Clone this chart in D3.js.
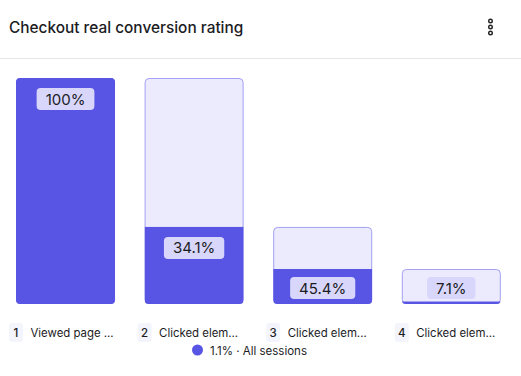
<!DOCTYPE html>
<html>
<head>
<meta charset="utf-8">
<script src="https://cdn.jsdelivr.net/npm/d3@7"></script>
<style>
  body { margin: 0; background: #fff; font-family: Inter, 'Noto Sans', sans-serif; }
</style>
</head>
<body>
<div id="chart"></div>
<script>
const width = 521;
const height = 376;

const title = 'Checkout real conversion rating';
const stepNumbers = ['1', '2', '3', '4'];
const stepLabels = ['Viewed page ...', 'Clicked elem...', 'Clicked elem...', 'Clicked elem...'];
// conversion from previous step, in %
const stepRates = [100, 34.1, 45.4, 7.1];
const legendLabel = '1.1% · All sessions';

const DARK = '#5955e4';
const LIGHT = '#ecebfd';
const BORDER = '#a3a0f3';
const LABEL_BG = '#d8d7fb';

// outer bar = share reaching previous step, fill = share reaching this step
const steps = [];
let prev = 100;
stepRates.forEach((r, i) => {
  const cur = i === 0 ? r : (prev * r) / 100;
  steps.push({ num: stepNumbers[i], label: stepLabels[i], rate: r, outer: i === 0 ? 100 : prev, value: cur });
  prev = cur;
});

const svg = d3.select('#chart').append('svg').attr('width', width).attr('height', height);

// header
svg.append('text')
  .attr('x', 9)
  .attr('y', 33)
  .style('font-size', '15.4px')
  .style('font-weight', '500')
  .attr('fill', '#1c1c1f')
  .text(title);

[21, 27, 33].forEach((cy) => {
  svg.append('circle')
    .attr('cx', 490.5)
    .attr('cy', cy)
    .attr('r', 1.8)
    .attr('fill', 'none')
    .attr('stroke', '#222')
    .attr('stroke-width', 1.4);
});

svg.append('line')
  .attr('x1', 0).attr('x2', width)
  .attr('y1', 58.5).attr('y2', 58.5)
  .attr('stroke', '#e6e6e9');

const x = d3.scaleBand()
  .domain(steps.map((d) => d.num))
  .range([16, 500.8])
  .paddingInner(0.23)
  .paddingOuter(0);

const y = d3.scaleLinear().domain([0, 100]).range([304, 78]);

const bars = svg.selectAll('g.step').data(steps).join('g').attr('class', 'step');

// outer (previous step) bar
bars.append('rect')
  .attr('x', (d) => x(d.num) + 0.5)
  .attr('y', (d) => y(d.outer) + 0.5)
  .attr('width', x.bandwidth() - 1)
  .attr('height', (d) => y(0) - y(d.outer) - 1)
  .attr('rx', 4)
  .attr('fill', (d, i) => (i === 0 ? DARK : LIGHT))
  .attr('stroke', (d, i) => (i === 0 ? DARK : BORDER));

// filled part, clipped to the outer rounded shape
bars.each(function (d, i) {
  const g = d3.select(this);
  const id = 'clip' + i;
  g.append('clipPath').attr('id', id)
    .append('rect')
    .attr('x', x(d.num))
    .attr('y', y(d.outer))
    .attr('width', x.bandwidth())
    .attr('height', y(0) - y(d.outer))
    .attr('rx', 4);
  g.append('rect')
    .attr('clip-path', `url(#${id})`)
    .attr('x', x(d.num))
    .attr('y', y(d.value))
    .attr('width', x.bandwidth())
    .attr('height', Math.max(2, y(0) - y(d.value)))
    .attr('fill', DARK);
});

// value labels
const boxH = 22;
bars.each(function (d) {
  const g = d3.select(this);
  const cx = x(d.num) + x.bandwidth() / 2;
  const top = Math.min(y(d.value) + 10, y(0) - boxH - 5);
  const txt = d.rate === 100 ? '100%' : d.rate.toFixed(1) + '%';
  const t = g.append('text')
    .attr('x', cx)
    .attr('y', top + 16.5)
    .attr('text-anchor', 'middle')
    .style('font-size', '15px')
    .style('font-weight', '400')
    .attr('fill', '#1c1c1f')
    .text(txt);
  const w = t.node().getComputedTextLength() + 18;
  g.insert('rect', 'text')
    .attr('x', cx - w / 2)
    .attr('y', top)
    .attr('width', w)
    .attr('height', boxH)
    .attr('rx', 4)
    .attr('fill', LABEL_BG);
});

// x labels
const xl = svg.selectAll('g.xlabel').data(steps).join('g').attr('class', 'xlabel')
  .attr('transform', (d) => `translate(${x(d.num) - 7},0)`);
xl.append('rect')
  .attr('x', 0).attr('y', 323)
  .attr('width', 14).attr('height', 19)
  .attr('rx', 3)
  .attr('fill', '#f4f4fc');
xl.append('text')
  .attr('x', 7).attr('y', 336.5)
  .attr('text-anchor', 'middle')
  .style('font-size', '11.5px')
  .style('font-weight', '500')
  .attr('fill', '#1c1c1f')
  .text((d) => d.num);
xl.append('text')
  .attr('x', 21.5).attr('y', 336.5)
  .style('font-size', '11.4px')
  .attr('fill', '#1c1c1f')
  .text((d) => d.label);

// legend
svg.append('circle').attr('cx', 197.5).attr('cy', 350).attr('r', 5.5).attr('fill', DARK);
svg.append('text')
  .attr('x', 210).attr('y', 354.5)
  .style('font-size', '11.5px')
  .attr('fill', '#1c1c1f')
  .text(legendLabel);
</script>
</body>
</html>
